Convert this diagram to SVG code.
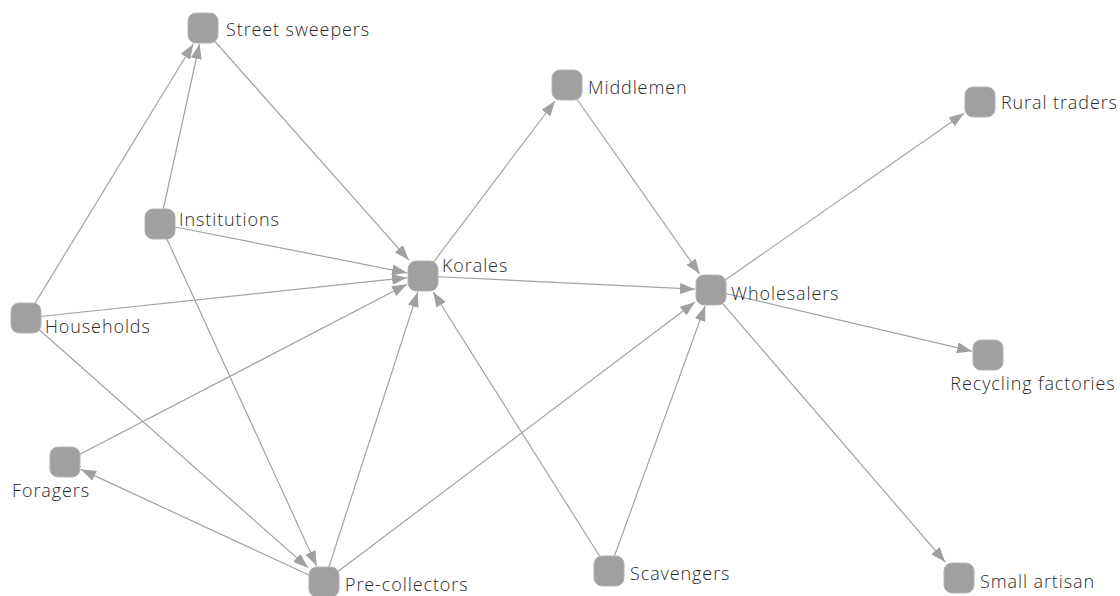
<svg xmlns="http://www.w3.org/2000/svg" width="1120" height="596" viewBox="0 0 1120 596">
  <style>
    .edge { fill: none; stroke: #a3a3a3; stroke-width: 1.2; marker-end: url(#arrow); }
    .node rect { fill: #a0a0a0; stroke: #b4b4b4; stroke-width: 1; }
    .node text { font-family: "Open Sans", "Liberation Sans", sans-serif; font-weight: 300; font-size: 18px; letter-spacing: 0.9px; fill: #2a2a2a; }
  </style>
  <defs>
    <marker id="arrow" markerUnits="userSpaceOnUse" markerWidth="15" markerHeight="11" refX="15" refY="5.5" orient="auto">
      <path d="M0,0 L15,5.5 L0,11 z" fill="#a0a0a0"/>
    </marker>
  </defs>
  <rect width="1120" height="596" fill="#ffffff"/>

  <!-- connectors -->
  <g id="edges">
    <line class="edge" x1="26" y1="318" x2="193.3" y2="44"/>
    <line class="edge" x1="160" y1="224" x2="199.5" y2="44"/>
    <line class="edge" x1="203" y1="28" x2="408.8" y2="260"/>
    <line class="edge" x1="160" y1="224" x2="407" y2="272.8"/>
    <line class="edge" x1="26" y1="318" x2="407" y2="277.7"/>
    <line class="edge" x1="65" y1="462" x2="407" y2="284.3"/>
    <line class="edge" x1="324" y1="582" x2="417.8" y2="292"/>
    <line class="edge" x1="609" y1="571" x2="433.1" y2="292"/>
    <line class="edge" x1="423" y1="276" x2="555" y2="101"/>
    <line class="edge" x1="423" y1="276" x2="695" y2="289.2"/>
    <line class="edge" x1="567" y1="85" x2="699.7" y2="274"/>
    <line class="edge" x1="324" y1="582" x2="695" y2="302.1"/>
    <line class="edge" x1="609" y1="571" x2="705.2" y2="306"/>
    <line class="edge" x1="711" y1="290" x2="964" y2="113.2"/>
    <line class="edge" x1="711" y1="290" x2="972" y2="351.2"/>
    <line class="edge" x1="711" y1="290" x2="945.2" y2="562"/>
    <line class="edge" x1="26" y1="318" x2="308" y2="567.8"/>
    <line class="edge" x1="160" y1="224" x2="316.7" y2="566"/>
    <line class="edge" x1="324" y1="582" x2="81" y2="469.4"/>
  </g>

  <!-- nodes -->
  <g id="street-sweepers" class="node"><rect x="188" y="13" width="30" height="30" rx="8"/><text x="226" y="36">Street sweepers</text></g>
  <g id="middlemen" class="node"><rect x="552" y="70" width="30" height="30" rx="8"/><text x="588" y="94">Middlemen</text></g>
  <g id="rural-traders" class="node"><rect x="965" y="87" width="30" height="30" rx="8"/><text x="1001" y="109">Rural traders</text></g>
  <g id="institutions" class="node"><rect x="145" y="209" width="30" height="30" rx="8"/><text x="179" y="226">Institutions</text></g>
  <g id="korales" class="node"><rect x="408" y="261" width="30" height="30" rx="8"/><text x="442" y="272">Korales</text></g>
  <g id="wholesalers" class="node"><rect x="696" y="275" width="30" height="30" rx="8"/><text x="731" y="300">Wholesalers</text></g>
  <g id="households" class="node"><rect x="11" y="303" width="30" height="30" rx="8"/><text x="45" y="333">Households</text></g>
  <g id="recycling-factories" class="node"><rect x="973" y="340" width="30" height="30" rx="8"/><text x="1033" y="390" text-anchor="middle">Recycling factories</text></g>
  <g id="foragers" class="node"><rect x="50" y="447" width="30" height="30" rx="8"/><text x="12" y="497">Foragers</text></g>
  <g id="pre-collectors" class="node"><rect x="309" y="567" width="30" height="30" rx="8"/><text x="345" y="591">Pre-collectors</text></g>
  <g id="scavengers" class="node"><rect x="594" y="556" width="30" height="30" rx="8"/><text x="630" y="580">Scavengers</text></g>
  <g id="small-artisan" class="node"><rect x="944" y="563" width="30" height="30" rx="8"/><text x="980" y="588">Small artisan</text></g>
</svg>
